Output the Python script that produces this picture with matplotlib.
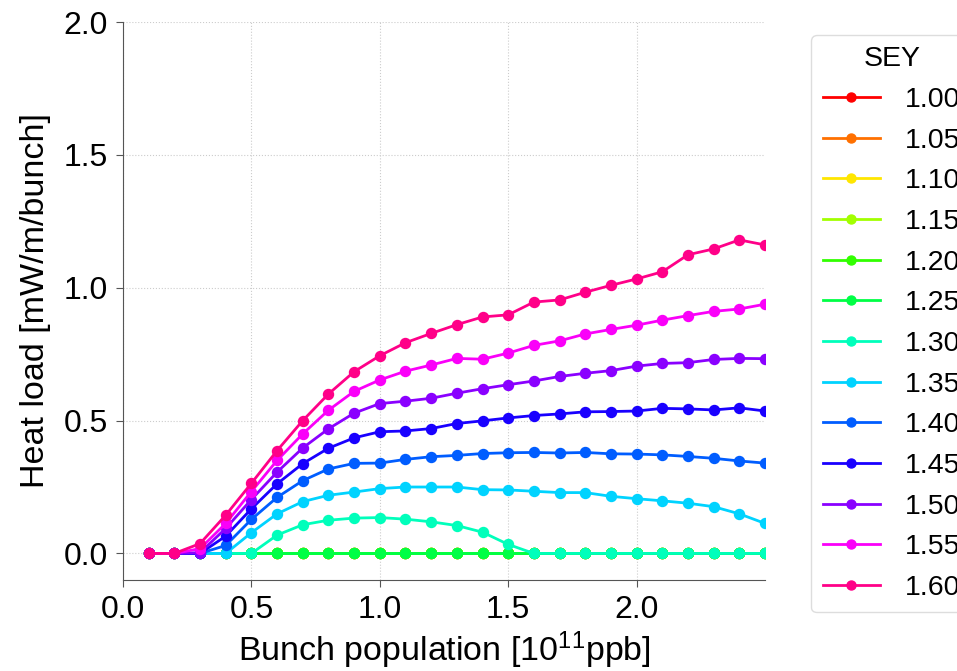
import matplotlib
matplotlib.use("Agg")
import matplotlib.pyplot as plt
import numpy as np

plt.rcParams['font.family'] = ['Liberation Sans', 'DejaVu Sans']
plt.rcParams['mathtext.fontset'] = 'custom'
plt.rcParams['mathtext.rm'] = 'Liberation Sans'
plt.rcParams['mathtext.it'] = 'Liberation Sans:italic'
plt.rcParams['mathtext.bf'] = 'Liberation Sans:bold'

# bunch population [1e11 ppb]
bunch_pop = [0.1, 0.2, 0.3, 0.4, 0.5, 0.6, 0.7, 0.8, 0.9, 1.0,
             1.1, 1.2, 1.3, 1.4, 1.5, 1.6, 1.7, 1.8, 1.9, 2.0,
             2.1, 2.2, 2.3, 2.4, 2.5]

sey_labels = ['1.00', '1.05', '1.10', '1.15', '1.20', '1.25', '1.30',
              '1.35', '1.40', '1.45', '1.50', '1.55', '1.60']

# heat load [mW/m/bunch] per SEY
hl_100 = [0, 0, 0, 0, 0, 0, 0, 0, 0, 0, 0, 0, 0, 0, 0, 0, 0, 0, 0, 0, 0, 0, 0, 0, 0]
hl_105 = [0, 0, 0, 0, 0, 0, 0, 0, 0, 0, 0, 0, 0, 0, 0, 0, 0, 0, 0, 0, 0, 0, 0, 0, 0]
hl_110 = [0, 0, 0, 0, 0, 0, 0, 0, 0, 0, 0, 0, 0, 0, 0, 0, 0, 0, 0, 0, 0, 0, 0, 0, 0]
hl_115 = [0, 0, 0, 0, 0, 0, 0, 0, 0, 0, 0, 0, 0, 0, 0, 0, 0, 0, 0, 0, 0, 0, 0, 0, 0]
hl_120 = [0, 0, 0, 0, 0, 0, 0, 0, 0, 0, 0, 0, 0, 0, 0, 0, 0, 0, 0, 0, 0, 0, 0, 0, 0]
hl_125 = [0, 0, 0, 0, 0, 0, 0, 0, 0, 0, 0, 0, 0, 0, 0, 0, 0, 0, 0, 0, 0, 0, 0, 0, 0]
hl_130 = [0, 0, 0, 0, 0, 0.069, 0.108, 0.125, 0.133, 0.135, 0.129, 0.119, 0.105,
          0.080, 0.034, 0, 0, 0, 0, 0, 0, 0, 0, 0, 0]
hl_135 = [0, 0, 0, 0, 0.078, 0.149, 0.195, 0.219, 0.231, 0.244, 0.250, 0.250, 0.250,
          0.240, 0.239, 0.234, 0.229, 0.229, 0.215, 0.206, 0.198, 0.189, 0.176, 0.149, 0.113]
hl_140 = [0, 0, 0, 0.030, 0.128, 0.211, 0.274, 0.318, 0.339, 0.340, 0.354, 0.364, 0.369,
          0.376, 0.379, 0.380, 0.378, 0.380, 0.375, 0.374, 0.371, 0.365, 0.358, 0.348, 0.340]
hl_145 = [0, 0, 0, 0.065, 0.168, 0.262, 0.338, 0.396, 0.435, 0.458, 0.461, 0.470, 0.489,
          0.499, 0.510, 0.519, 0.525, 0.533, 0.534, 0.536, 0.546, 0.544, 0.540, 0.548, 0.536]
hl_150 = [0, 0, 0.003, 0.094, 0.203, 0.306, 0.397, 0.469, 0.528, 0.564, 0.573, 0.584, 0.603,
          0.620, 0.635, 0.649, 0.666, 0.678, 0.688, 0.705, 0.715, 0.718, 0.730, 0.734, 0.733]
hl_155 = [0, 0, 0.018, 0.113, 0.233, 0.350, 0.450, 0.539, 0.610, 0.653, 0.686, 0.709, 0.734,
          0.731, 0.754, 0.783, 0.800, 0.826, 0.843, 0.859, 0.878, 0.895, 0.911, 0.920, 0.938]
hl_160 = [0, 0, 0.037, 0.144, 0.264, 0.387, 0.500, 0.600, 0.684, 0.744, 0.793, 0.828, 0.861,
          0.890, 0.898, 0.946, 0.954, 0.983, 1.009, 1.033, 1.060, 1.124, 1.146, 1.180, 1.161]

all_series = [hl_100, hl_105, hl_110, hl_115, hl_120, hl_125, hl_130,
              hl_135, hl_140, hl_145, hl_150, hl_155, hl_160]

fig = plt.figure(figsize=(9.57, 6.71), dpi=100)
ax = fig.add_axes([0.1285, 0.1356, 0.6709, 0.8316])

n = len(all_series)
for i, (lab, vals) in enumerate(zip(sey_labels, all_series)):
    col = plt.cm.hsv(i / n)
    ax.plot(bunch_pop, vals, '-o', color=col, lw=2.0, ms=7.2, label=lab)

ax.set_xlim(0, 2.5)
ax.set_ylim(-0.1, 2.0)
ax.set_xticks([0.0, 0.5, 1.0, 1.5, 2.0])
ax.set_yticks([0.0, 0.5, 1.0, 1.5, 2.0])
ax.xaxis.set_major_formatter(matplotlib.ticker.FormatStrFormatter('%.1f'))
ax.yaxis.set_major_formatter(matplotlib.ticker.FormatStrFormatter('%.1f'))
ax.tick_params(labelsize=23, length=5, color='#555555', pad=6)
ax.grid(True, ls=':', color='#cccccc', lw=0.8)
for side in ['top', 'right']:
    ax.spines[side].set_visible(False)
for side in ['left', 'bottom']:
    ax.spines[side].set_color('#555555')

ax.set_xlabel('Bunch population [10$^{11}$ppb]', fontsize=24.5, labelpad=3)
ax.set_ylabel('Heat load [mW/m/bunch]', fontsize=24.5, labelpad=9)

leg = ax.legend(title='SEY', loc='upper left', bbox_to_anchor=(1.072, 0.977),
                borderaxespad=0, fontsize=20.5, title_fontsize=20.5,
                labelspacing=0.515, handlelength=2.0, handletextpad=0.9,
                borderpad=0.4, markerscale=0.9, fancybox=True, framealpha=1.0)
leg.get_frame().set_edgecolor('#dddddd')

fig.savefig('out.png', dpi=100)
